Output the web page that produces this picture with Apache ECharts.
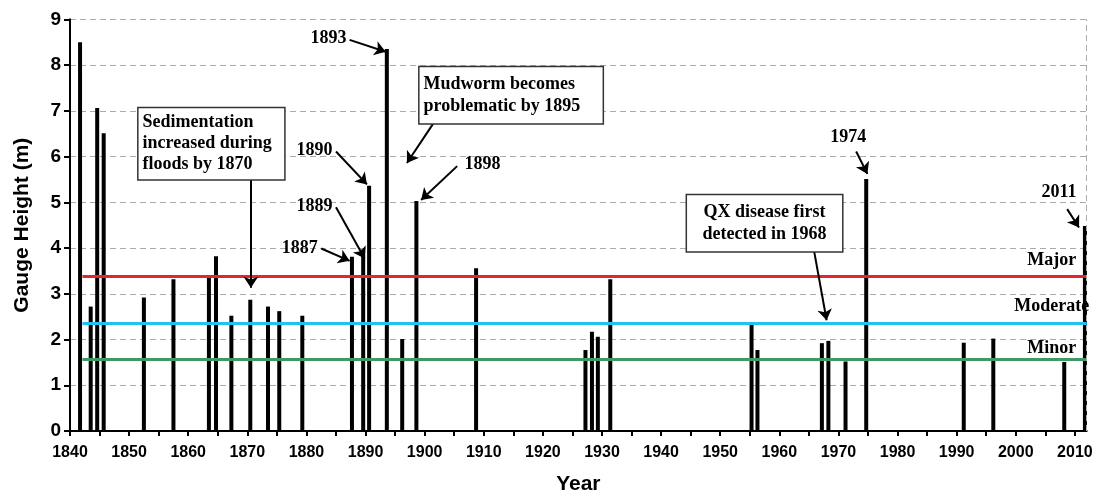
<!DOCTYPE html>
<html><head><meta charset="utf-8">
<script src="https://cdn.jsdelivr.net/npm/echarts@6/dist/echarts.min.js"></script>
<style>html,body{margin:0;padding:0;background:#fff}#c{width:1101px;height:500px}</style>
</head><body><div id="c"></div>
<script>
// ---- data ----
const floodYears = [1841.7, 1843.5, 1844.6, 1845.7, 1852.5, 1857.5, 1863.5, 1864.7, 1867.3, 1870.5,
  1873.5, 1875.4, 1879.3, 1887.7, 1889.6, 1890.6, 1893.6, 1896.2, 1898.6, 1908.7,
  1927.2, 1928.3, 1929.3, 1931.4, 1955.3, 1956.3, 1967.2, 1968.3, 1971.2, 1974.7,
  1991.2, 1996.2, 2008.2, 2011.7];
const gaugeHeights = [8.50, 2.72, 7.06, 6.51, 2.92, 3.32, 3.38, 3.82, 2.52, 2.87,
  2.72, 2.62, 2.52, 3.81, 3.97, 5.36, 8.35, 2.01, 5.03, 3.56,
  1.77, 2.17, 2.06, 3.32, 2.32, 1.77, 1.92, 1.97, 1.52, 5.51,
  1.93, 2.02, 1.51, 4.48];
const thresholdNames = ['Major', 'Moderate', 'Minor'];
const thresholdLevels = [3.39, 2.35, 1.57];
const thresholdStartYear = 1842.1;
const xMin = 1840, xMax = 2012, xStep = 5;
const yMin = 0, yMax = 9, yStep = 1;

// ---- annotations (data-space anchors) ----
const yearNotes = [
  {text: '1893', at: [1886.76, 8.575], align: 'right', arrow: [[1887.3, 8.55], [1893.4, 8.29]]},
  {text: '1890', at: [1884.4, 6.13], align: 'right', arrow: [[1885.0, 6.11], [1890.24, 5.39]]},
  {text: '1889', at: [1884.4, 4.92], align: 'right', arrow: [[1885.0, 4.89], [1889.85, 3.77]]},
  {text: '1887', at: [1881.9, 3.99], align: 'right', arrow: [[1882.5, 3.99], [1887.3, 3.72]]},
  {text: '1898', at: [1906.75, 5.84], align: 'left', arrow: [[1905.5, 5.79], [1899.4, 5.05]]},
  {text: '1974', at: [1971.66, 6.42], align: 'center', arrow: [[1973.0, 6.11], [1974.9, 5.62]]},
  {text: '2011', at: [2007.3, 5.21], align: 'center', arrow: [[2008.7, 4.85], [2010.7, 4.45]]}
];
const boxNotes = [
  {text: 'Sedimentation\nincreased during\nfloods by 1870', at: [1851.6, 6.28], align: 'left', width: 137.6, lh: 21, pad: [4, 4], arrow: [[1870.6, 5.51], [1870.6, 3.13]]},
  {text: 'Mudworm becomes\nproblematic by 1895', at: [1899.14, 7.34], align: 'left', width: 175, lh: 22, pad: [6, 4], arrow: [[1901.5, 6.73], [1897.0, 5.86]]},
  {text: 'QX disease first\ndetected in 1968', at: [1957.5, 4.54], align: 'center', width: 147, lh: 22, pad: [6, 4], arrow: [[1965.9, 3.92], [1968.0, 2.42]]}
];
const thresholdLabelX = 2006.1;
const thresholdLabelY = [3.72, 2.73, 1.80];
const thresholdColors = ['#e3262b', '#22c2f0', '#3c9a62'];

const serif = "'Liberation Serif','Times New Roman',serif";
const sans = "'Liberation Sans',Arial,sans-serif";

const bars = floodYears.map((y, i) => [y, gaugeHeights[i]]);

const txt = {fontFamily: serif, fontWeight: 'bold', fontSize: 18, color: '#000', opacity: 1,
  textBorderWidth: 0, textBorderColor: 'transparent', textShadowBlur: 0};
const noteData = [];
yearNotes.forEach(n => noteData.push({
  value: n.at,
  label: Object.assign({show: true, formatter: n.text, position: 'inside', align: n.align, verticalAlign: 'middle'}, txt)
}));
boxNotes.forEach(n => noteData.push({
  value: n.at,
  label: Object.assign({show: true, formatter: n.text, position: 'inside', align: n.align, verticalAlign: 'middle',
    width: n.width, overflow: 'none', lineHeight: n.lh, padding: n.pad,
    backgroundColor: '#fff', borderColor: '#333', borderWidth: 1.5}, txt)
}));
thresholdNames.forEach((name, i) => noteData.push({
  value: [thresholdLabelX, thresholdLabelY[i]],
  label: Object.assign({show: true, formatter: name, position: 'inside', align: 'center', verticalAlign: 'middle'}, txt)
}));

const arrowData = yearNotes.concat(boxNotes).map(n => [{coord: n.arrow[0]}, {coord: n.arrow[1]}]);

const thresholdLines = thresholdLevels.map((v, i) => [
  {coord: [thresholdStartYear, v], lineStyle: {color: thresholdColors[i], width: 3, type: 'solid'}},
  {coord: [xMax, v]}
]);
thresholdLines.push({xAxis: xMax, lineStyle: {color: '#aaa', width: 1, type: [6, 4]}});

const chart = echarts.init(document.getElementById('c'));
chart.setOption({
  animation: false,
  backgroundColor: '#fff',
  grid: {left: 70, right: 14.3, top: 19.3, bottom: 63.3},
  xAxis: {
    type: 'value', min: xMin, max: xMax, interval: xStep,
    name: 'Year', nameLocation: 'middle', nameGap: 43,
    nameTextStyle: {fontFamily: sans, fontWeight: 'bold', fontSize: 21, color: '#000'},
    axisLine: {onZero: false, lineStyle: {color: '#000', width: 2}},
    axisTick: {length: 5, lineStyle: {color: '#000', width: 2}},
    axisLabel: {margin: 14, fontFamily: sans, fontWeight: 'bold', fontSize: 16, color: '#000',
      showMaxLabel: false, hideOverlap: false,
      formatter: v => (v % 10 === 0 ? String(v) : '')},
    splitLine: {show: false}
  },
  yAxis: {
    type: 'value', min: yMin, max: yMax, interval: yStep,
    name: 'Gauge Height (m)', nameLocation: 'middle', nameGap: 37,
    nameTextStyle: {fontFamily: sans, fontWeight: 'bold', fontSize: 21, color: '#000'},
    axisLine: {show: true, lineStyle: {color: '#000', width: 2}},
    axisTick: {show: true, length: 6, lineStyle: {color: '#000', width: 2}},
    axisLabel: {margin: 9, fontFamily: sans, fontWeight: 'bold', fontSize: 19, color: '#000'},
    splitLine: {show: true, lineStyle: {color: '#aaa', width: 1, type: [6, 4]}}
  },
  series: [
    {
      type: 'line', data: [], silent: true, z: 2,
      markLine: {silent: true, symbol: ['none', 'none'], label: {show: false}, animation: false,
        data: thresholdLines}
    },
    {
      type: 'bar', data: bars, barWidth: 4, itemStyle: {color: '#000'}, z: 4, silent: true
    },
    {
      type: 'line', data: [], silent: true, z: 6,
      markLine: {silent: true, symbol: ['none', 'arrow'], symbolSize: 11, label: {show: false}, animation: false,
        lineStyle: {color: '#000', width: 2, type: 'solid'}, data: arrowData}
    },
    {
      type: 'scatter', data: noteData, symbol: 'circle', symbolSize: 1, silent: true, z: 7, clip: false,
      itemStyle: {color: '#fff', opacity: 0}
    }
  ]
});
</script></body></html>
